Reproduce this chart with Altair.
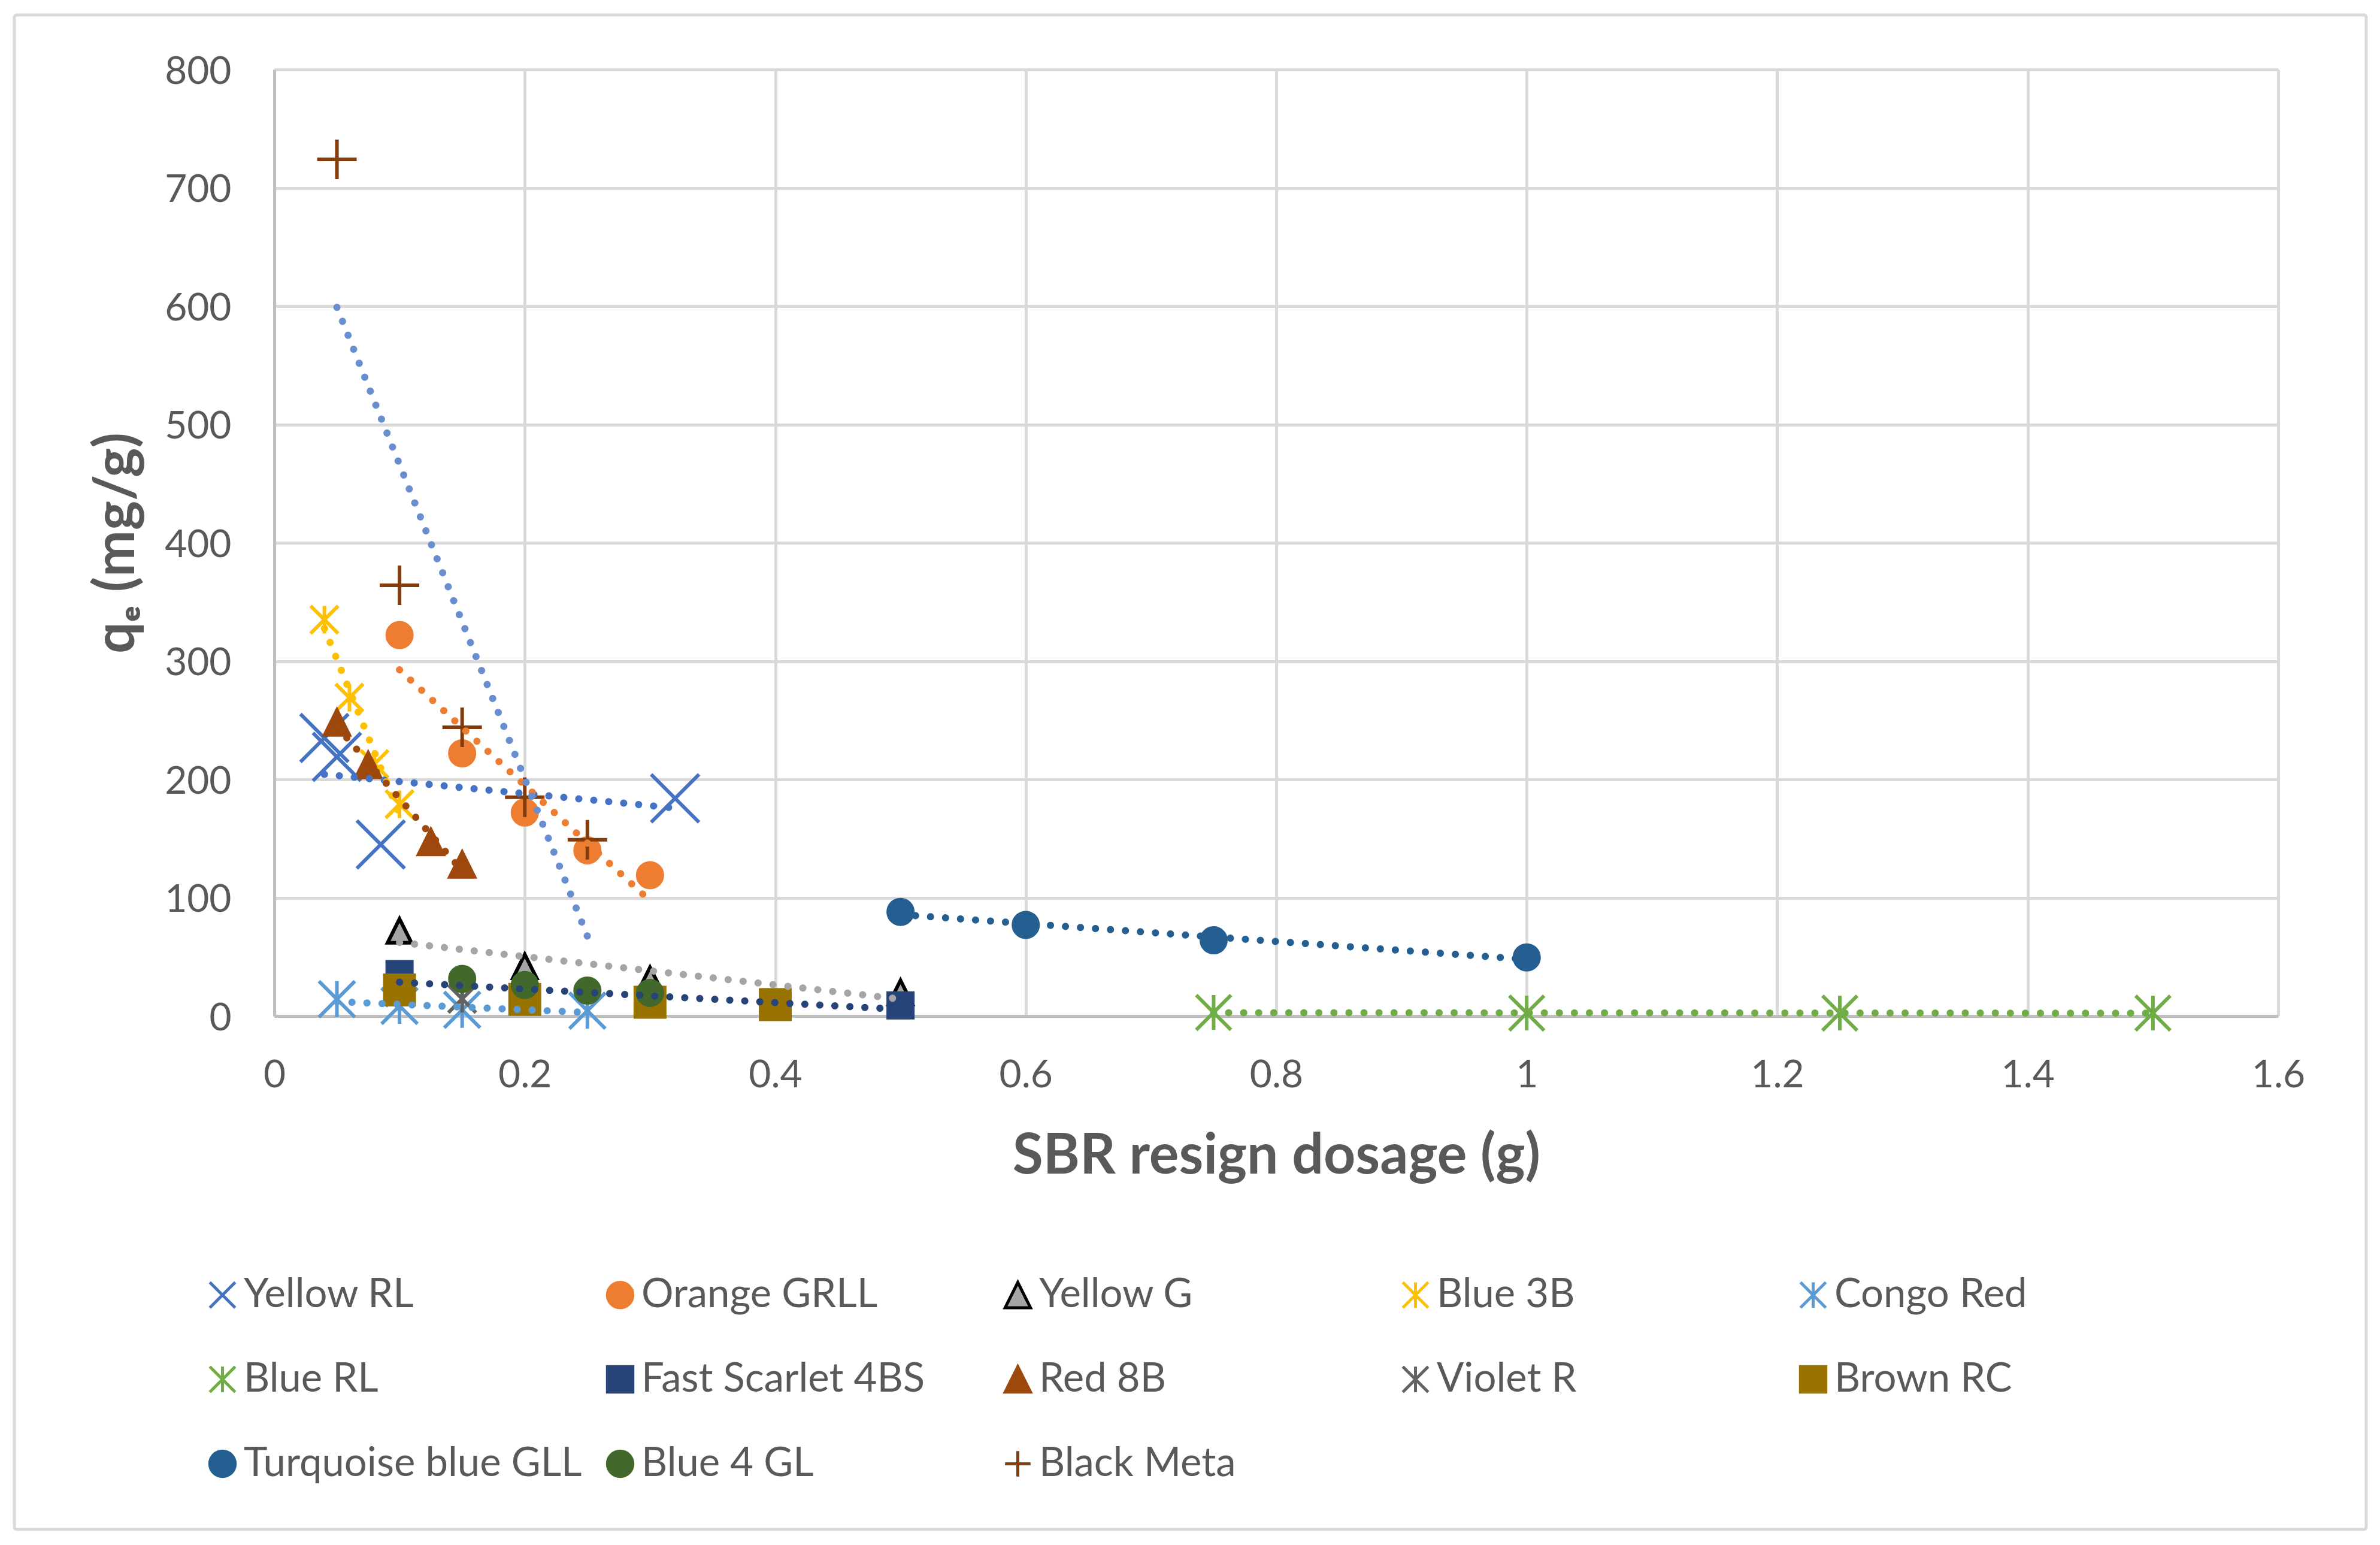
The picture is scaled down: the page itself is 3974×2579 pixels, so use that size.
import pandas as pd
import altair as alt

# series, in the order they are plotted
series = ["Yellow RL", "Orange GRLL", "Yellow G", "Blue 3B", "Congo Red",
          "Blue RL", "Fast Scarlet 4BS", "Red 8B", "Violet R", "Brown RC",
          "Turquoise blue GLL", "Blue 4 GL", "Black Meta"]

# dosage (g) and qe (mg/g)
yellow_rl_x = [0.04, 0.05, 0.085, 0.32]
yellow_rl_y = [235, 219, 145, 184]
orange_grll_x = [0.1, 0.15, 0.2, 0.25, 0.3]
orange_grll_y = [322, 222, 172, 140, 119]
yellow_g_x = [0.1, 0.2, 0.3, 0.5]
yellow_g_y = [72, 42, 31, 20]
blue_3b_x = [0.04, 0.06, 0.08, 0.1]
blue_3b_y = [335, 269, 213, 179]
congo_red_x = [0.05, 0.1, 0.15, 0.25]
congo_red_y = [14.3, 8.6, 5.2, 4.5]
blue_rl_x = [0.75, 1.0, 1.25, 1.5]
blue_rl_y = [3, 2.5, 2.5, 2.5]
fast_scarlet_x = [0.1, 0.2, 0.3, 0.4, 0.5]
fast_scarlet_y = [35.5, 16, 13.5, 11.5, 9]
red_8b_x = [0.05, 0.075, 0.125, 0.15]
red_8b_y = [248, 212, 147, 128]
violet_r_x = [0.1, 0.15]
violet_r_y = [20, 14.5]
brown_rc_x = [0.1, 0.2, 0.3, 0.4]
brown_rc_y = [22, 14, 11.6, 9.6]
turquoise_x = [0.5, 0.6, 0.75, 1.0]
turquoise_y = [88, 77, 64, 49.5]
blue_4gl_x = [0.15, 0.2, 0.25, 0.3]
blue_4gl_y = [31.4, 26.2, 21.5, 19.5]
black_meta_x = [0.05, 0.1, 0.15, 0.2, 0.25]
black_meta_y = [724, 364, 244, 185, 149]

xs = [yellow_rl_x, orange_grll_x, yellow_g_x, blue_3b_x, congo_red_x, blue_rl_x,
      fast_scarlet_x, red_8b_x, violet_r_x, brown_rc_x, turquoise_x, blue_4gl_x,
      black_meta_x]
ys = [yellow_rl_y, orange_grll_y, yellow_g_y, blue_3b_y, congo_red_y, blue_rl_y,
      fast_scarlet_y, red_8b_y, violet_r_y, brown_rc_y, turquoise_y, blue_4gl_y,
      black_meta_y]

# series that carry a linear trendline
trend_series = ["Yellow RL", "Orange GRLL", "Yellow G", "Blue 3B", "Congo Red",
                "Blue RL", "Fast Scarlet 4BS", "Red 8B", "Turquoise blue GLL",
                "Black Meta"]

x_ticks = [0, 0.2, 0.4, 0.6, 0.8, 1.0, 1.2, 1.4, 1.6]
y_ticks = [0, 100, 200, 300, 400, 500, 600, 700, 800]

rows = []
for name, dx, dy in zip(series, xs, ys):
    for a, b in zip(dx, dy):
        rows.append({"series": name, "dose": a, "qe": b})
df = pd.DataFrame(rows)

# styling
fills = ["#4472C4", "#ED7D31", "#A5A5A5", "#FFC000", "#5B9BD5", "#70AD47",
         "#264478", "#9E480E", "#636363", "#997300", "#255E91", "#43682B", "#843C0C"]
strokes = fills.copy()
strokes[2] = "#000000"
X = "M-1,-1L1,1M-1,1L1,-1"
STAR = "M-1,-1L1,1M-1,1L1,-1M0,-1L0,1"
PLUS = "M-1,0L1,0M0,-1L0,1"
TRI = "M0,-1L1,1L-1,1Z"
shapes = [X, "circle", TRI, STAR, STAR, STAR, "square", TRI, STAR, "square",
          "circle", "circle", PLUS]
sizes = [6400, 1681, 1600, 2116, 3600, 3364, 1681, 1681, 2116, 2401, 1681, 1681, 4356]
trend_colors = ["#4472C4", "#ED7D31", "#A5A5A5", "#FFC000", "#5B9BD5", "#70AD47",
                "#264478", "#9E480E", "#255E91", "#698ED0"]

FONT = "Lato"
GREY = "#595959"
W, H = 3346, 1580

leg = alt.Legend(title=None, orient="none", legendX=-120, legendY=2012, columns=5,
                 direction="horizontal", gridAlign="all", columnPadding=30,
                 rowPadding=73, labelFont=FONT, labelFontSize=67, labelColor=GREY,
                 labelOffset=2, symbolSize=1800, symbolStrokeWidth=5, labelLimit=1000)

x_enc = alt.X("dose:Q", scale=alt.Scale(domain=[0, 1.6], nice=False, zero=False),
              axis=alt.Axis(values=x_ticks, format="~g", labelFont=FONT, labelFontSize=64,
                            labelColor=GREY, labelPadding=67, labelFlush=False,
                            labelOverlap=False, ticks=False, tickSize=0,
                            domainColor="#BFBFBF", domainWidth=5,
                            gridColor="#D9D9D9", gridWidth=5,
                            title="SBR resign dosage (g)", titleFont=FONT,
                            titleFontSize=93, titleFontWeight="bold", titleColor=GREY,
                            titleX=W / 2, titleY=262, titleBaseline="alphabetic",
                            titleAlign="center"))
y_enc = alt.Y("qe:Q", scale=alt.Scale(domain=[0, 800], nice=False),
              axis=alt.Axis(values=y_ticks, labelFont=FONT, labelFontSize=64,
                            labelColor=GREY, labelPadding=72, labelFlush=False,
                            labelOverlap=False, labelOffset=4, ticks=False, tickSize=0,
                            domainColor="#BFBFBF", domainWidth=5,
                            gridColor="#D9D9D9", gridWidth=5,
                            title="qₑ (mg/g)", titleFont=FONT, titleFontSize=93,
                            titleFontWeight="bold", titleColor=GREY, titleAngle=270,
                            titleX=-235, titleY=H / 2, titleBaseline="alphabetic",
                            titleAlign="center"))

fill_enc = alt.Fill("series:N", scale=alt.Scale(domain=series, range=fills), legend=leg)
stroke_enc = alt.Stroke("series:N", scale=alt.Scale(domain=series, range=strokes), legend=leg)
shape_enc = alt.Shape("series:N", scale=alt.Scale(domain=series, range=shapes), legend=leg)

# one layer per series so that each keeps its own marker size and draw order
point_layers = []
for name, sz in zip(series, sizes):
    point_layers.append(
        alt.Chart(df).transform_filter(alt.datum.series == name)
        .mark_point(opacity=1, strokeWidth=6, size=sz)
        .encode(x=x_enc, y=y_enc, fill=fill_enc, stroke=stroke_enc, shape=shape_enc)
    )

trends = alt.Chart(df).transform_filter(
    alt.FieldOneOfPredicate(field="series", oneOf=trend_series)
).transform_regression("dose", "qe", groupby=["series"]).mark_line(
    strokeWidth=12, strokeDash=[0.1, 25], strokeCap="round"
).encode(
    x="dose:Q",
    y="qe:Q",
    color=alt.Color("series:N", scale=alt.Scale(domain=trend_series, range=trend_colors),
                    legend=None),
)

frame = alt.Chart(alt.Data(values=[{"f": 1}])).mark_rect(
    filled=False, color="#D9D9D9", strokeWidth=5, cornerRadius=4
).encode(x=alt.value(-434), x2=alt.value(3493), y=alt.value(-91), y2=alt.value(2437))

chart = alt.layer(frame, *point_layers, trends).properties(
    width=W, height=H,
    padding={"left": 450, "top": 108, "right": 150, "bottom": 860},
    autosize=alt.AutoSizeParams(type="none"),
).configure_view(strokeWidth=0).configure_legend(symbolOpacity=1)

chart.save("out.html", embed_options={"renderer": "svg", "actions": False})
